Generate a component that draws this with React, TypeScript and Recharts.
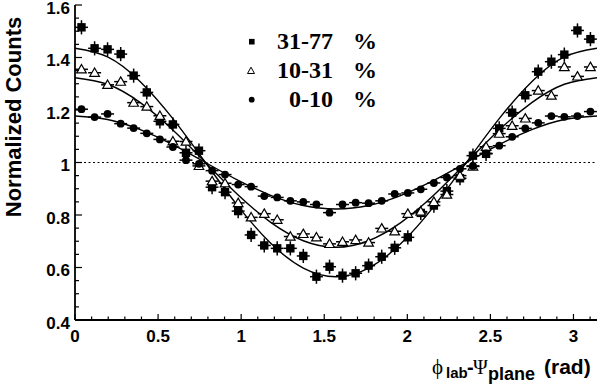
import React from "react"
import {
  ComposedChart,
  Scatter,
  Line,
  XAxis,
  YAxis,
  ErrorBar,
  ReferenceLine,
  Legend,
} from "recharts"

// bin centres, phi_lab - Psi_plane (rad), 40 bins over [0, pi]
const binX = [
  0.039, 0.118, 0.196, 0.275, 0.353, 0.432, 0.511, 0.589, 0.668, 0.746,
  0.825, 0.903, 0.982, 1.06, 1.139, 1.217, 1.296, 1.374, 1.453, 1.532,
  1.61, 1.689, 1.767, 1.846, 1.924, 2.003, 2.081, 2.16, 2.238, 2.317,
  2.395, 2.474, 2.553, 2.631, 2.71, 2.788, 2.867, 2.945, 3.024, 3.102,
]

const cent31_77 = [
  1.515, 1.435, 1.431, 1.413, 1.331, 1.267, 1.157, 1.145, 1.037, 1.045,
  0.906, 0.887, 0.815, 0.724, 0.684, 0.673, 0.673, 0.644, 0.565, 0.603,
  0.569, 0.578, 0.607, 0.641, 0.675, 0.715, 0.808, 0.836, 0.891, 0.94,
  1.026, 1.033, 1.13, 1.19, 1.256, 1.346, 1.384, 1.411, 1.503, 1.47,
]

const cent10_31 = [
  1.355, 1.342, 1.296, 1.308, 1.228, 1.213, 1.178, 1.081, 1.08, 0.987,
  0.929, 0.921, 0.846, 0.791, 0.805, 0.782, 0.718, 0.728, 0.715, 0.69,
  0.698, 0.705, 0.695, 0.749, 0.738, 0.805, 0.813, 0.85, 0.878, 0.95,
  0.985, 1.06, 1.11, 1.14, 1.168, 1.274, 1.255, 1.364, 1.328, 1.364,
]

const cent0_10 = [
  1.203, 1.173, 1.185, 1.148, 1.131, 1.111, 1.088, 1.059, 1.009, 0.995,
  0.969, 0.954, 0.916, 0.908, 0.872, 0.867, 0.854, 0.85, 0.84, 0.809,
  0.84, 0.847, 0.845, 0.854, 0.88, 0.884, 0.898, 0.922, 0.943, 0.976,
  0.987, 1.035, 1.064, 1.098, 1.13, 1.151, 1.177, 1.174, 1.177, 1.194,
]

// fit curves
const fitX = [
  0, 0.196, 0.393, 0.589, 0.785, 0.982, 1.178, 1.374, 1.571,
  1.767, 1.963, 2.16, 2.356, 2.553, 2.749, 2.945, 3.1416,
]
const fit31_77 = [
  1.435, 1.402, 1.308, 1.167, 1.0, 0.833, 0.692, 0.598, 0.565,
  0.598, 0.692, 0.833, 1.0, 1.167, 1.308, 1.402, 1.435,
]
const fit10_31 = [
  1.323, 1.298, 1.228, 1.124, 1.0, 0.876, 0.772, 0.702, 0.677,
  0.702, 0.772, 0.876, 1.0, 1.124, 1.228, 1.298, 1.323,
]
const fit0_10 = [
  1.177, 1.164, 1.125, 1.068, 1.0, 0.932, 0.875, 0.836, 0.823,
  0.836, 0.875, 0.932, 1.0, 1.068, 1.125, 1.164, 1.177,
]

const halfBin = 0.039
const yErr = { sq: 0.027, tri: 0.014, dot: 0.008 }

const xMajor = ["0", "0.5", "1", "1.5", "2", "2.5", "3"]
const yMajor = ["0.4", "0.6", "0.8", "1", "1.2", "1.4", "1.6"]
const xTicks = Array.from({ length: 32 }, (_, i) => Math.round(i * 10) / 100)
const yTicks = Array.from({ length: 25 }, (_, i) => Math.round(40 + i * 5) / 100)

const legendRows = [
  { name: "31-77", shape: "sq" },
  { name: "10-31", shape: "tri" },
  { name: "0-10", shape: "dot" },
]

const points = (ys: number[], ey: number) =>
  binX.map((x, i) => ({ x, y: ys[i], ex: halfBin, ey }))
const curve = (ys: number[]) => fitX.map((x, i) => ({ x, y: ys[i] }))

const sans = "'Liberation Sans', Arial, Helvetica, sans-serif"
const serif = "'Liberation Serif', 'Times New Roman', serif"

const isMajor = (v: number, step: number) =>
  Math.abs(v / step - Math.round(v / step)) < 1e-6
const label = (v: number, list: string[]) =>
  list.find((s) => Math.abs(parseFloat(s) - v) < 1e-6)

const Square = ({ cx, cy }: any) => (
  <rect x={cx - 4.2} y={cy - 4.2} width={8.4} height={8.4} fill="#000" />
)
const Triangle = ({ cx, cy }: any) => (
  <path
    d={`M${cx},${cy - 4.8} L${cx + 4.8},${cy + 3.6} L${cx - 4.8},${cy + 3.6} Z`}
    fill="#fff"
    stroke="#000"
    strokeWidth={1.2}
  />
)
const Dot = ({ cx, cy }: any) => <circle cx={cx} cy={cy} r={3.9} fill="#000" />

const BottomTick = ({ x, y, payload }: any) => {
  const v = payload.value
  const major = isMajor(v, 0.5)
  return (
    <g>
      <line x1={x} x2={x} y1={y} y2={y - (major ? 6 : 3.5)} stroke="#000" strokeWidth={1.2} />
      {major && (
        <text x={x} y={y + 22} textAnchor="middle" fontFamily={sans} fontWeight="bold" fontSize={17}>
          {label(v, xMajor)}
        </text>
      )}
    </g>
  )
}
const TopTick = ({ x, y, payload }: any) => {
  const major = isMajor(payload.value, 0.5)
  return <line x1={x} x2={x} y1={y} y2={y + (major ? 6 : 3.5)} stroke="#000" strokeWidth={1.2} />
}
const LeftTick = ({ x, y, payload }: any) => {
  const v = payload.value
  const major = isMajor(v, 0.2)
  return (
    <g>
      <line x1={x} x2={x + (major ? 7 : 4)} y1={y} y2={y} stroke="#000" strokeWidth={1.2} />
      {major && (
        <text x={x - 5} y={y + 8.5} textAnchor="end" fontFamily={sans} fontWeight="bold" fontSize={17}>
          {label(v, yMajor)}
        </text>
      )}
    </g>
  )
}
const RightTick = ({ x, y, payload }: any) => {
  const major = isMajor(payload.value, 0.2)
  return <line x1={x} x2={x - (major ? 7 : 4)} y1={y} y2={y} stroke="#000" strokeWidth={1.2} />
}

const LegendBox = () => (
  <svg width={150} height={95} style={{ display: "block" }}>
    {legendRows.map((r, i) => {
      const cy = 16.7 + i * 29
      return (
        <g key={r.name}>
          {r.shape === "sq" && <rect x={9} y={cy - 2.8} width={5.6} height={5.6} fill="#000" />}
          {r.shape === "tri" && (
            <path d={`M11,${cy - 3.5} L14.5,${cy + 2.8} L7.5,${cy + 2.8} Z`} fill="#fff" stroke="#000" strokeWidth={1} />
          )}
          {r.shape === "dot" && <circle cx={11.7} cy={cy} r={2.9} fill="#000" />}
          <text x={93} y={cy + 7} textAnchor="end" fontFamily={serif} fontWeight="bold" fontSize={24}>
            {r.name}
          </text>
          <text x={113} y={cy + 7} fontFamily={serif} fontWeight="bold" fontSize={24}>
            %
          </text>
        </g>
      )
    })}
  </svg>
)

export default function App() {
  const axisLine = { stroke: "#000", strokeWidth: 1.8 }
  return (
    <div style={{ position: "absolute", left: 0, top: 0, width: 600, height: 386, background: "#fff" }}>
      <ComposedChart width={600} height={386} margin={{ top: 5, right: 3, bottom: 0, left: 0 }}>
        <XAxis
          type="number"
          dataKey="x"
          domain={[0, 3.1416]}
          allowDataOverflow
          ticks={xTicks}
          interval={0}
          tick={<BottomTick />}
          tickLine={false}
          tickSize={0}
          tickMargin={0}
          axisLine={axisLine}
          height={66}
        />
        <XAxis
          xAxisId="t"
          orientation="top"
          type="number"
          domain={[0, 3.1416]}
          allowDataOverflow
          ticks={xTicks}
          interval={0}
          tick={<TopTick />}
          tickLine={false}
          tickSize={0}
          tickMargin={0}
          axisLine={axisLine}
          height={0}
        />
        <YAxis
          type="number"
          dataKey="y"
          domain={[0.4, 1.6]}
          allowDataOverflow
          ticks={yTicks}
          interval={0}
          tick={<LeftTick />}
          tickLine={false}
          tickSize={0}
          tickMargin={0}
          axisLine={axisLine}
          width={75}
        />
        <YAxis
          yAxisId="r"
          orientation="right"
          type="number"
          domain={[0.4, 1.6]}
          allowDataOverflow
          ticks={yTicks}
          interval={0}
          tick={<RightTick />}
          tickLine={false}
          tickSize={0}
          tickMargin={0}
          axisLine={axisLine}
          width={0}
        />
        <ReferenceLine y={1} stroke="#000" strokeWidth={1} strokeDasharray="2 2.5" />

        <Line data={curve(fit31_77)} dataKey="y" type="natural" stroke="#000" strokeWidth={1.4} dot={false} legendType="none" isAnimationActive={false} />
        <Line data={curve(fit10_31)} dataKey="y" type="natural" stroke="#000" strokeWidth={1.4} dot={false} legendType="none" isAnimationActive={false} />
        <Line data={curve(fit0_10)} dataKey="y" type="natural" stroke="#000" strokeWidth={1.4} dot={false} legendType="none" isAnimationActive={false} />

        <Scatter name="31-77 %" data={points(cent31_77, yErr.sq)} shape={<Square />} isAnimationActive={false}>
          <ErrorBar dataKey="ex" direction="x" width={0} stroke="#000" strokeWidth={1.5} />
          <ErrorBar dataKey="ey" direction="y" width={0} stroke="#000" strokeWidth={1.5} />
        </Scatter>
        <Scatter name="10-31 %" data={points(cent10_31, yErr.tri)} shape={<Triangle />} isAnimationActive={false}>
          <ErrorBar dataKey="ex" direction="x" width={0} stroke="#000" strokeWidth={1.5} />
          <ErrorBar dataKey="ey" direction="y" width={0} stroke="#000" strokeWidth={1.5} />
        </Scatter>
        <Scatter name="0-10 %" data={points(cent0_10, yErr.dot)} shape={<Dot />} isAnimationActive={false}>
          <ErrorBar dataKey="ex" direction="x" width={0} stroke="#000" strokeWidth={1.5} />
          <ErrorBar dataKey="ey" direction="y" width={0} stroke="#000" strokeWidth={1.5} />
        </Scatter>

        <Legend
          layout="vertical"
          align="center"
          verticalAlign="middle"
          content={<LegendBox />}
          wrapperStyle={{ position: "absolute", left: 240, top: 25, width: 150, height: 95 }}
        />

        <text
          transform="translate(21,117) rotate(-90)"
          textAnchor="middle"
          fontFamily={sans}
          fontWeight="bold"
          fontSize={22}
        >
          Normalized Counts
        </text>
        <text y={374} fontFamily={sans} fontWeight="bold" fontSize={20}>
          <tspan x={432} fontFamily={serif} fontWeight="normal" fontSize={21}>ϕ</tspan>
          <tspan x={446} y={378} fontSize={15}>lab</tspan>
          <tspan x={467} y={374}>-</tspan>
          <tspan x={473} fontFamily={serif} fontWeight="normal" fontSize={20}>Ψ</tspan>
          <tspan x={488} y={380} fontSize={18}>plane</tspan>
          <tspan x={544} y={374} fontSize={21}>(rad)</tspan>
        </text>
      </ComposedChart>
    </div>
  )
}
